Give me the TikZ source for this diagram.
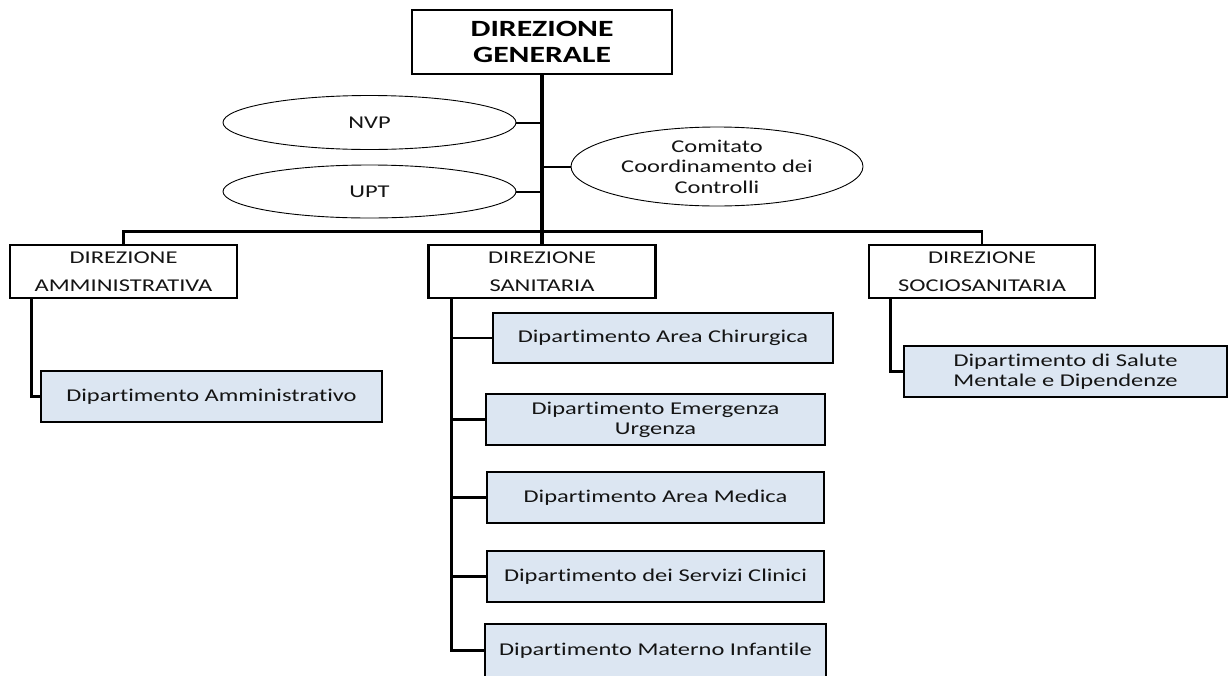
\documentclass[tikz,border=0pt]{standalone}
\usepackage{fontspec}
\setmainfont{Carlito}
\newfontfamily\cf[FakeStretch=1.36,Ligatures={NoCommon}]{Carlito}
\usetikzlibrary{shapes.geometric,calc}
\definecolor{deptblue}{HTML}{DCE6F2}
\definecolor{txt}{HTML}{141414}
\begin{document}
\begin{tikzpicture}[x=1pt,y=-1pt,
  conn/.style={line width=2.6pt,draw=black},
  trunk/.style={line width=3.4pt,draw=black},
  tick/.style={line width=2pt,draw=black},
  dgbox/.style={draw,line width=2.6pt,inner sep=0pt,align=center,text=black,
    minimum width=260pt,minimum height=64pt,
    font=\cf\bfseries\fontsize{23.3}{26}\selectfont},
  dirbox/.style={draw,line width=2.6pt,inner sep=0pt,align=center,text=txt,
    minimum width=227pt,minimum height=53pt,
    font=\cf\fontsize{18}{28}\selectfont},
  deptbox/.style={draw,fill=deptblue,line width=2.6pt,inner sep=0pt,align=center,text=txt,
    minimum height=51pt,font=\cf\fontsize{18}{20}\selectfont},
  oval/.style={ellipse,draw,line width=0.9pt,inner sep=0pt,align=center,text=txt,
    font=\cf\fontsize{18}{20.5}\selectfont}]
\useasboundingbox (0,0) rectangle (1228,675);
\fill[white] (0,0) rectangle (1228,675);

% top
\node[dgbox] (dg) at (542,42) {DIREZIONE\\GENERALE};
\node[oval,minimum width=293pt,minimum height=54pt] (nvp) at (369.5,122.5) {NVP};
\node[oval,minimum width=293pt,minimum height=53pt] (upt) at (369.5,191.5) {UPT};
\node[oval,minimum width=292pt,minimum height=79pt] (com) at (717,166.5) {Comitato\\Coordinamento dei\\Controlli};

% directions
\node[dirbox] (amm) at (123.5,271.5) {DIREZIONE\\AMMINISTRATIVA};
\node[dirbox] (san) at (542,271.5) {DIREZIONE\\SANITARIA};
\node[dirbox,minimum width=226pt] (soc) at (982,271.5) {DIREZIONE\\SOCIOSANITARIA};

% departments
\node[deptbox,minimum width=341pt] (damm) at (211.5,396.5) {Dipartimento Amministrativo};
\node[deptbox,minimum width=340pt,minimum height=50pt] (dchi) at (663,338) {Dipartimento Area Chirurgica};
\node[deptbox,minimum width=339pt] (demu) at (655.5,419.5) {Dipartimento Emergenza\\Urgenza};
\node[deptbox,minimum width=337pt] (dmed) at (655.5,497.5) {Dipartimento Area Medica};
\node[deptbox,minimum width=337pt] (dser) at (655.5,576.5) {Dipartimento dei Servizi Clinici};
\node[deptbox,minimum width=341pt,minimum height=53pt] (dmat) at (655.5,650.5) {Dipartimento Materno Infantile};
\node[deptbox,minimum width=323pt] (dsal) at (1065.5,371.5) {Dipartimento di Salute\\Mentale e Dipendenze};

% trunk and staff connectors
\draw[trunk] (dg.south) -- (san.north);
\draw[tick] (nvp.east) -- (nvp.east -| dg.south);
\draw[tick] (upt.east) -- (upt.east -| dg.south);
\draw[tick] (com.west) -- (com.west -| dg.south);

% horizontal bus
\draw[conn] (amm.north) -- ++(0,-12) -| (soc.north);

% branches
\coordinate (ab) at ([xshift=23pt]amm.south west);
\draw[conn] (ab) |- (damm.west);
\coordinate (sb) at ([xshift=24pt]san.south west);
\draw[conn] (sb) |- (dmat.west);
\draw[conn] (dchi.west) -- (dchi.west -| sb);
\draw[conn] (demu.west) -- (demu.west -| sb);
\draw[conn] (dmed.west) -- (dmed.west -| sb);
\draw[conn] (dser.west) -- (dser.west -| sb);
\coordinate (cb) at ([xshift=23pt]soc.south west);
\draw[conn] (cb) |- (dsal.west);
\end{tikzpicture}
\end{document}
